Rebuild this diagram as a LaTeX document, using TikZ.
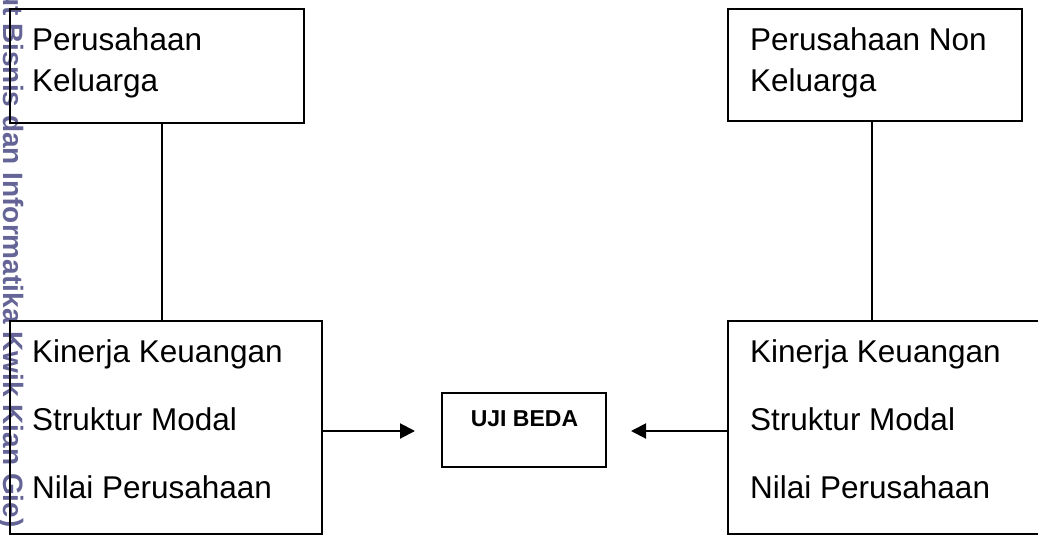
\documentclass[tikz,border=0pt]{standalone}
\usepackage{fontspec}
\setmainfont{Liberation Sans}
\usetikzlibrary{arrows.meta}
\definecolor{wmark}{RGB}{100,100,150}
\begin{document}
\begin{tikzpicture}[x=1pt,y=-1pt,
  box/.style={draw, line width=2pt, rectangle, inner sep=0pt, outer sep=0pt, anchor=north west},
  lbl/.style={anchor=base west, inner sep=0pt, font=\fontsize{31.5}{36}\selectfont},
  conn/.style={line width=2pt},
  arr/.style={line width=2pt, -{Triangle[length=15pt,width=15pt]}},
  wm/.style={anchor=base west, inner sep=0pt, rotate=-90, text=wmark, font=\fontsize{28}{30}\selectfont\bfseries}]
\useasboundingbox (0,0) rectangle (1038,536);
\clip (0,0) rectangle (1038,536);
\fill[white] (0,0) rectangle (1038,536);
% watermark
\node[wm] (wmtext) at (3.5,-11) {ut Bisnis dan Informatika Kwik Kian Gie)};
% boxes
\node[box, minimum width=294pt, minimum height=114pt] (pk) at (10,9) {};
\node[box, minimum width=294pt, minimum height=112pt] (pnk) at (728,9) {};
\node[box, minimum width=312pt, minimum height=213pt] (kl) at (10,321) {};
\node[box, minimum width=312pt, minimum height=213pt] (kr) at (728,321) {};
\node[box, minimum width=164pt, minimum height=74pt] (uji) at (442,393) {};
% texts
\node[lbl] (t1) at (32,50) {Perusahaan};
\node[lbl] (t2) at (32,91) {Keluarga};
\node[lbl] (t3) at (750,50) {Perusahaan Non};
\node[lbl] (t4) at (750,91) {Keluarga};
\node[lbl] (t5) at (32,362) {Kinerja Keuangan};
\node[lbl] (t6) at (32,430) {Struktur Modal};
\node[lbl] (t7) at (32,498) {Nilai Perusahaan};
\node[lbl] (t8) at (750,362) {Kinerja Keuangan};
\node[lbl] (t9) at (750,430) {Struktur Modal};
\node[lbl] (t10) at (750,498) {Nilai Perusahaan};
\node[anchor=base, inner sep=0pt, font=\fontsize{23}{26}\selectfont\bfseries] (ujit) at (524.5,426) {UJI BEDA};
% connectors
\coordinate (cl) at (162,0);
\coordinate (cr) at (872,0);
\draw[conn] (pk.south -| cl) -- (kl.north -| cl);
\draw[conn] (pnk.south -| cr) -- (kr.north -| cr);
\coordinate (al) at (415,431);
\coordinate (ar) at (631,431);
\draw[arr] (kl.east |- al) -- (al);
\draw[arr] (kr.west |- ar) -- (ar);
\end{tikzpicture}
\end{document}
